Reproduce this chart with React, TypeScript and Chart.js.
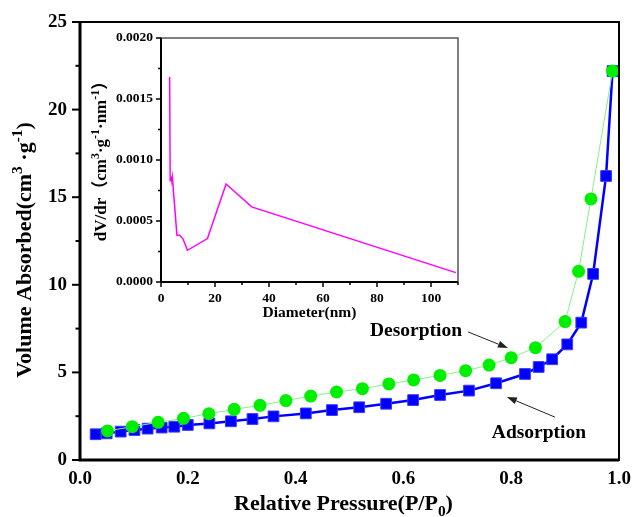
import React, { useEffect, useRef } from "react";
import { Chart, registerables } from "chart.js";

Chart.register(...registerables);

// ---- Main isotherm data (P/P0 vs volume adsorbed) ----
const adsP = [0.029, 0.0495, 0.0755, 0.101, 0.1255, 0.1515, 0.175, 0.2, 0.24, 0.28, 0.32, 0.359, 0.419, 0.4675, 0.518, 0.568, 0.618, 0.668, 0.7217, 0.772, 0.8256, 0.851, 0.876, 0.904, 0.93, 0.952, 0.976, 0.988];
const adsV = [1.47, 1.52, 1.62, 1.71, 1.79, 1.85, 1.9, 2.0, 2.09, 2.21, 2.34, 2.49, 2.66, 2.85, 3.01, 3.21, 3.42, 3.71, 3.96, 4.38, 4.91, 5.31, 5.75, 6.6, 7.84, 10.62, 16.21, 22.2];

const desP = [0.988, 0.948, 0.925, 0.9, 0.845, 0.8, 0.759, 0.7155, 0.668, 0.619, 0.573, 0.524, 0.476, 0.428, 0.382, 0.334, 0.286, 0.239, 0.192, 0.145, 0.097, 0.051];
const desV = [22.2, 14.9, 10.77, 7.9, 6.41, 5.84, 5.42, 5.1, 4.83, 4.57, 4.34, 4.07, 3.88, 3.65, 3.39, 3.12, 2.89, 2.64, 2.38, 2.15, 1.9, 1.66];

// ---- Inset pore size distribution ----
const diameter = [3.2, 3.4, 3.7, 4.0, 4.2, 5.9, 6.9, 8.1, 9.8, 17.2, 24.1, 33.6, 109.2];
const dvdr = [0.00168, 0.000832, 0.000865, 0.000825, 0.00086, 0.000384, 0.000384, 0.000356, 0.00026, 0.000356, 0.000803, 0.000616, 0.0000767];

// ---- Tick definitions ----
const mainYMajor = [0, 5, 10, 15, 20, 25];
const mainYMinor = [2.5, 7.5, 12.5, 17.5, 22.5];
const insetXMajor = [0, 20, 40, 60, 80, 100];
const insetXMinor = [10, 30, 50, 70, 90, 110];
const insetYMajor = [0, 0.0005, 0.001, 0.0015, 0.002];
const insetYMinor = [0.00025, 0.00075, 0.00125, 0.00175];

// ---- Annotation anchors (data coords) ----
const desLabel = { text: "Desorption", x: 0.538, y: 7.08, ax0: 0.72, ay0: 7.31, ax1: 0.794, ay1: 6.39 };
const adsLabel = { text: "Adsorption", x: 0.764, y: 1.26, ax0: 0.881, ay0: 2.45, ax1: 0.792, ay1: 3.6 };

const SERIF = "'Liberation Serif', 'Times New Roman', 'Noto Sans CJK SC', serif";

type Seg = { t: string; s?: "sup" | "sub" };

function drawRich(ctx: CanvasRenderingContext2D, segs: Seg[], x: number, y: number, size: number, align: "center" | "left", small = 0.7) {
  const fontFor = (seg: Seg) => `bold ${seg.s ? size * small : size}px ${SERIF}`;
  let total = 0;
  for (const seg of segs) {
    ctx.font = fontFor(seg);
    total += ctx.measureText(seg.t).width;
  }
  let cx = align === "center" ? x - total / 2 : x;
  ctx.textAlign = "left";
  ctx.textBaseline = "alphabetic";
  for (const seg of segs) {
    ctx.font = fontFor(seg);
    const dy = seg.s === "sup" ? -size * 0.42 : seg.s === "sub" ? size * 0.28 : 0;
    ctx.fillText(seg.t, cx, y + dy);
    cx += ctx.measureText(seg.t).width;
  }
}

function drawArrow(ctx: CanvasRenderingContext2D, x0: number, y0: number, x1: number, y1: number) {
  ctx.save();
  ctx.strokeStyle = "#222";
  ctx.fillStyle = "#222";
  ctx.lineWidth = 1;
  const ang = Math.atan2(y1 - y0, x1 - x0);
  const hl = 10, hw = 3.5;
  const bx = x1 - hl * Math.cos(ang), by = y1 - hl * Math.sin(ang);
  ctx.beginPath();
  ctx.moveTo(x0, y0);
  ctx.lineTo(bx, by);
  ctx.stroke();
  ctx.beginPath();
  ctx.moveTo(x1, y1);
  ctx.lineTo(bx + hw * Math.sin(ang), by - hw * Math.cos(ang));
  ctx.lineTo(bx - hw * Math.sin(ang), by + hw * Math.cos(ang));
  ctx.closePath();
  ctx.fill();
  ctx.restore();
}

const zeroPad = (s: any) => {
  s.paddingLeft = 0;
  s.paddingRight = 0;
  s.paddingTop = 0;
  s.paddingBottom = 0;
};

const mainDecor = {
  id: "mainDecor",
  afterDraw(chart: any) {
    const ctx: CanvasRenderingContext2D = chart.ctx;
    const { left, right, top, bottom } = chart.chartArea;
    const xs = chart.scales.x, ys = chart.scales.y;
    ctx.save();
    // frame
    ctx.strokeStyle = "#000";
    ctx.lineWidth = 2;
    ctx.strokeRect(left, top, right - left, bottom - top);
    ctx.lineWidth = 3;
    ctx.beginPath();
    ctx.moveTo(left, top);
    ctx.lineTo(left, bottom);
    ctx.lineTo(right, bottom);
    ctx.stroke();
    // y ticks
    ctx.lineWidth = 2;
    for (const v of mainYMajor) {
      const py = ys.getPixelForValue(v);
      ctx.beginPath(); ctx.moveTo(left - 8, py); ctx.lineTo(left, py); ctx.stroke();
    }
    for (const v of mainYMinor) {
      const py = ys.getPixelForValue(v);
      ctx.beginPath(); ctx.moveTo(left - 4.5, py); ctx.lineTo(left, py); ctx.stroke();
    }
    // axis titles
    ctx.fillStyle = "#000";
    drawRich(ctx, [{ t: "Relative Pressure(P/P" }, { t: "0", s: "sub" }, { t: ")" }], (left + right) / 2 - 6, bottom + 50, 22, "center");
    ctx.save();
    ctx.translate(left - 49, (top + bottom) / 2 + 9);
    ctx.rotate(-Math.PI / 2);
    drawRich(ctx, [{ t: "Volume Absorbed(cm" }, { t: "3", s: "sup" }, { t: " ·g" }, { t: "-1", s: "sup" }, { t: ")" }], 0, 0, 22, "center");
    ctx.restore();
    // annotations
    for (const a of [desLabel, adsLabel]) {
      ctx.font = `bold 19.5px ${SERIF}`;
      ctx.textAlign = "left";
      ctx.textBaseline = "alphabetic";
      ctx.fillStyle = "#000";
      ctx.fillText(a.text, xs.getPixelForValue(a.x), ys.getPixelForValue(a.y));
      drawArrow(ctx, xs.getPixelForValue(a.ax0), ys.getPixelForValue(a.ay0), xs.getPixelForValue(a.ax1), ys.getPixelForValue(a.ay1));
    }
    ctx.restore();
  },
};

const insetDecor = {
  id: "insetDecor",
  afterDraw(chart: any) {
    const ctx: CanvasRenderingContext2D = chart.ctx;
    const { left, right, top, bottom } = chart.chartArea;
    const xs = chart.scales.x, ys = chart.scales.y;
    ctx.save();
    ctx.strokeStyle = "#555";
    ctx.lineWidth = 1.5;
    ctx.strokeRect(left, top, right - left, bottom - top);
    ctx.strokeStyle = "#000";
    ctx.lineWidth = 2;
    ctx.beginPath();
    ctx.moveTo(left, top);
    ctx.lineTo(left, bottom);
    ctx.lineTo(right, bottom);
    ctx.stroke();
    ctx.lineWidth = 1.5;
    for (const v of insetYMajor) {
      const py = ys.getPixelForValue(v);
      ctx.beginPath(); ctx.moveTo(left - 5, py); ctx.lineTo(left, py); ctx.stroke();
    }
    for (const v of insetYMinor) {
      const py = ys.getPixelForValue(v);
      ctx.beginPath(); ctx.moveTo(left - 3, py); ctx.lineTo(left, py); ctx.stroke();
    }
    for (const v of insetXMajor) {
      const px = xs.getPixelForValue(v);
      ctx.beginPath(); ctx.moveTo(px, bottom); ctx.lineTo(px, bottom + 5); ctx.stroke();
    }
    for (const v of insetXMinor) {
      const px = xs.getPixelForValue(v);
      ctx.beginPath(); ctx.moveTo(px, bottom); ctx.lineTo(px, bottom + 3); ctx.stroke();
    }
    ctx.fillStyle = "#000";
    drawRich(ctx, [{ t: "Diameter(nm)" }], (left + right) / 2, bottom + 35, 15.5, "center");
    ctx.save();
    ctx.translate(left - 55, (top + bottom) / 2 - 3);
    ctx.rotate(-Math.PI / 2);
    drawRich(ctx, [{ t: "dV/dr（cm" }, { t: "3", s: "sup" }, { t: "·g" }, { t: "-1", s: "sup" }, { t: "·nm" }, { t: "-1", s: "sup" }, { t: "）" }], 0, 0, 17, "center");
    ctx.restore();
    ctx.restore();
  },
};

export default function App() {
  const mainRef = useRef<HTMLCanvasElement>(null);
  const insetRef = useRef<HTMLCanvasElement>(null);

  useEffect(() => {
    const main = new Chart(mainRef.current as HTMLCanvasElement, {
      type: "scatter",
      data: {
        datasets: [
          {
            label: "Desorption",
            data: desP.map((p, i) => ({ x: p, y: desV[i] })),
            showLine: true,
            borderColor: "#86f086",
            borderWidth: 1,
            pointStyle: "circle",
            pointRadius: 6.5,
            pointBackgroundColor: "#00ee00",
            pointBorderColor: "#00ee00",
            pointBorderWidth: 0,
            order: 0,
            clip: false,
          } as any,
          {
            label: "Adsorption",
            data: adsP.map((p, i) => ({ x: p, y: adsV[i] })),
            showLine: true,
            borderColor: "#0000ff",
            borderWidth: 2.5,
            pointStyle: "rect",
            pointRadius: 7.6,
            pointBackgroundColor: "#0000ff",
            pointBorderColor: "#3a3aff",
            pointBorderWidth: 1,
            order: 1,
            clip: false,
          } as any,
        ],
      },
      options: {
        animation: false,
        responsive: false,
        devicePixelRatio: 1,
        layout: { padding: { top: 22, right: 14, left: 0, bottom: 0 } },
        plugins: { legend: { display: false }, tooltip: { enabled: false } },
        scales: {
          x: {
            type: "linear",
            min: 0,
            max: 1,
            afterFit: (s: any) => { s.height = 57; zeroPad(s); },
            ticks: {
              stepSize: 0.2,
              callback: (v: any) => Number(v).toFixed(1),
              font: { family: SERIF, weight: "bold", size: 19 },
              color: "#000",
              padding: 8,
              maxRotation: 0,
            },
            grid: { display: false, drawTicks: false },
            border: { display: false },
          },
          y: {
            type: "linear",
            min: 0,
            max: 25,
            afterFit: (s: any) => { s.width = 80; zeroPad(s); },
            ticks: {
              stepSize: 5,
              font: { family: SERIF, weight: "bold", size: 19 },
              color: "#000",
              padding: 13,
            },
            grid: { display: false, drawTicks: false },
            border: { display: false },
          },
        },
      } as any,
      plugins: [mainDecor],
    });

    const inset = new Chart(insetRef.current as HTMLCanvasElement, {
      type: "scatter",
      data: {
        datasets: [
          {
            label: "dV/dr",
            data: diameter.map((d, i) => ({ x: d, y: dvdr[i] })),
            showLine: true,
            borderColor: "#ff00ff",
            borderWidth: 1.5,
            pointRadius: 0,
          },
        ],
      },
      options: {
        animation: false,
        responsive: false,
        devicePixelRatio: 1,
        layout: { padding: { top: 38, right: 175, left: 0, bottom: 0 } },
        plugins: { legend: { display: false }, tooltip: { enabled: false } },
        scales: {
          x: {
            type: "linear",
            min: 0,
            max: 110,
            afterFit: (s: any) => { s.height = 235; zeroPad(s); },
            afterBuildTicks: (s: any) => { s.ticks = insetXMajor.map((v) => ({ value: v })); },
            ticks: {
              stepSize: 20,
              font: { family: SERIF, weight: "bold", size: 13.5 },
              color: "#000",
              padding: 8,
              maxRotation: 0,
            },
            grid: { display: false, drawTicks: false },
            border: { display: false },
          },
          y: {
            type: "linear",
            min: 0,
            max: 0.002,
            afterFit: (s: any) => { s.width = 161; zeroPad(s); },
            ticks: {
              stepSize: 0.0005,
              callback: (v: any) => Number(v).toFixed(4),
              font: { family: SERIF, weight: "bold", size: 13.5 },
              color: "#000",
              padding: 8,
            },
            grid: { display: false, drawTicks: false },
            border: { display: false },
          },
        },
      } as any,
      plugins: [insetDecor],
    });

    return () => {
      main.destroy();
      inset.destroy();
    };
  }, []);

  return (
    <div style={{ position: "fixed", left: 0, top: 0, width: 633, height: 517, background: "#fff", overflow: "hidden" }}>
      <canvas ref={mainRef} width={633} height={517} style={{ position: "absolute", left: 0, top: 0 }} />
      <canvas ref={insetRef} width={633} height={517} style={{ position: "absolute", left: 0, top: 0 }} />
    </div>
  );
}
